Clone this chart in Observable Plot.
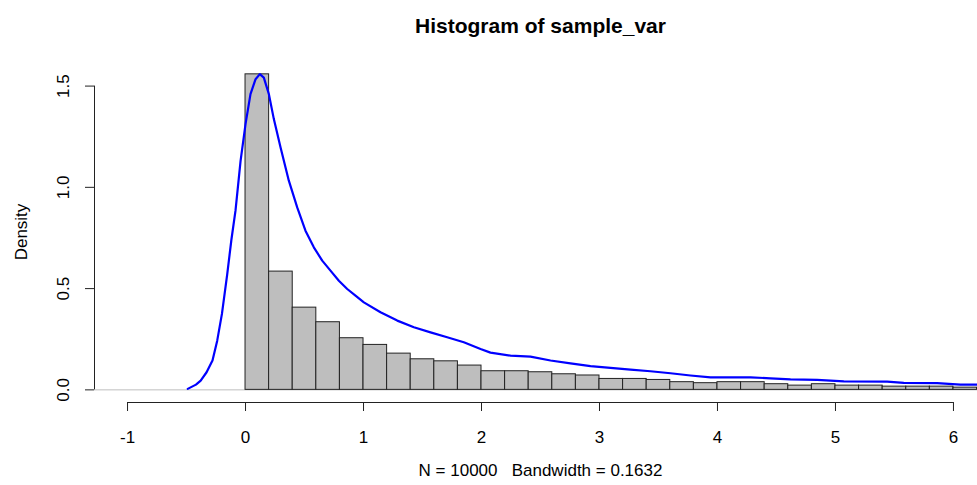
<!DOCTYPE html>
<html>
<head>
<meta charset="utf-8">
<script src="https://cdn.jsdelivr.net/npm/d3@7"></script>
<script src="https://cdn.jsdelivr.net/npm/@observablehq/plot@0.6"></script>
<style>
  html, body { margin: 0; padding: 0; background: #fff; overflow: hidden; }
  svg { overflow: hidden; }
</style>
</head>
<body>
<div id="chart"></div>
<script>
// ---- Data ----
const chartTitle = "Histogram of sample_var";
const xLabel = "N = 10000   Bandwidth = 0.1632";
const yLabel = "Density";

// histogram bin edges (left) and bin width
const binLeft = [0.0, 0.2, 0.4, 0.6, 0.8, 1.0, 1.2, 1.4, 1.6, 1.8, 2.0, 2.2, 2.4, 2.6, 2.8,
                 3.0, 3.2, 3.4, 3.6, 3.8, 4.0, 4.2, 4.4, 4.6, 4.8, 5.0, 5.2, 5.4, 5.6, 5.8, 6.0];
const binWidth = 0.2;
const binDensity = [1.558, 0.584, 0.406, 0.334, 0.255, 0.222, 0.179, 0.151, 0.141, 0.120,
                    0.092, 0.092, 0.087, 0.077, 0.071, 0.054, 0.054, 0.049, 0.038, 0.033,
                    0.038, 0.038, 0.028, 0.021, 0.028, 0.021, 0.021, 0.016, 0.016, 0.016, 0.011];

// kernel density curve
const densX = [-0.49, -0.42, -0.38, -0.33, -0.28, -0.24, -0.20, -0.155, -0.12, -0.085, -0.042, 0.0,
               0.042, 0.085, 0.121, 0.155, 0.198, 0.24, 0.297, 0.367, 0.438, 0.508, 0.579, 0.65,
               0.72, 0.791, 0.862, 0.932, 1.003, 1.144, 1.286, 1.427, 1.568, 1.709, 1.85, 1.992,
               2.076, 2.246, 2.415, 2.585, 2.754, 2.924, 3.093, 3.263, 3.432, 3.602, 3.771, 3.941,
               4.28, 4.449, 4.619, 4.845, 5.071, 5.438, 5.579, 5.862, 6.059, 6.3];
const densY = [0.005, 0.026, 0.046, 0.087, 0.145, 0.243, 0.375, 0.572, 0.74, 0.885, 1.131, 1.312,
               1.46, 1.534, 1.559, 1.542, 1.46, 1.337, 1.197, 1.033, 0.901, 0.786, 0.704, 0.638,
               0.589, 0.539, 0.498, 0.465, 0.432, 0.383, 0.342, 0.309, 0.284, 0.26, 0.235, 0.202,
               0.184, 0.169, 0.164, 0.145, 0.131, 0.117, 0.109, 0.1, 0.092, 0.082, 0.071, 0.062,
               0.062, 0.057, 0.052, 0.049, 0.042, 0.041, 0.035, 0.033, 0.026, 0.025];

const xTicks = [-1, 0, 1, 2, 3, 4, 5, 6];
const yTicks = [0.0, 0.5, 1.0, 1.5];

// ---- Build tables ----
const bins = binLeft.map((x, i) => ({x1: x, x2: x + binWidth, density: binDensity[i]}));
const curve = densX.map((x, i) => ({x, y: densY[i]}));

// R-style 4% axis extension
const xlim = [xTicks[0], xTicks[xTicks.length - 1]];
const xExt = 0.04 * (xlim[1] - xlim[0]);
const xDomain = [xlim[0] - xExt, xlim[1] + xExt];
const ymax = d3.max(densY);
const yDomain = [-0.04 * ymax, ymax * 1.04];

const font = "'Liberation Sans', Arial, Helvetica, sans-serif";
const ink = "#222";

const plot = Plot.plot({
  width: 977,
  height: 485,
  marginLeft: 94,
  marginRight: -9,
  marginTop: 61,
  marginBottom: 83,
  style: {fontFamily: font, fontSize: "17px", color: "#000", background: "#fff", overflow: "hidden"},
  x: {domain: xDomain, axis: null},
  y: {domain: yDomain, axis: null},
  marks: [
    Plot.ruleY([0], {stroke: "#BEBEBE", strokeWidth: 1, clip: true}),
    Plot.rectY(bins, {x1: "x1", x2: "x2", y: "density", fill: "#BEBEBE", stroke: ink, strokeWidth: 1, inset: 0, clip: true}),
    Plot.line(curve, {x: "x", y: "y", stroke: "#0000FF", strokeWidth: 2.2, clip: true}),
    // x axis
    Plot.ruleY([yDomain[0]], {x1: xTicks[0], x2: xTicks[xTicks.length - 1], stroke: ink}),
    Plot.axisX(xTicks, {tickSize: 9, tickPadding: 19, tickFormat: d => String(d), fontSize: 17, stroke: ink, fill: "#000"}),
    // y axis
    Plot.ruleX([xDomain[0]], {y1: yTicks[0], y2: yTicks[yTicks.length - 1], stroke: ink}),
    Plot.axisY(yTicks, {tickSize: 9, tickFormat: () => "", stroke: ink}),
    Plot.text(yTicks, {y: d => d, frameAnchor: "left", dx: -30.5, rotate: -90, textAnchor: "middle",
                       text: d => d.toFixed(1), fontSize: 17, fill: "#000"}),
    // labels
    Plot.text([yLabel], {frameAnchor: "left", dx: -73, rotate: -90, textAnchor: "middle", fontSize: 17, fill: "#000"}),
    Plot.text([xLabel], {frameAnchor: "bottom", dy: 73.5, textAnchor: "middle", fontSize: 17, fill: "#000"}),
    Plot.text([chartTitle], {frameAnchor: "top", dy: -43.5, textAnchor: "middle", fontSize: 21, fontWeight: "bold", fill: "#000"})
  ]
});
document.getElementById("chart").appendChild(plot);
</script>
</body>
</html>
